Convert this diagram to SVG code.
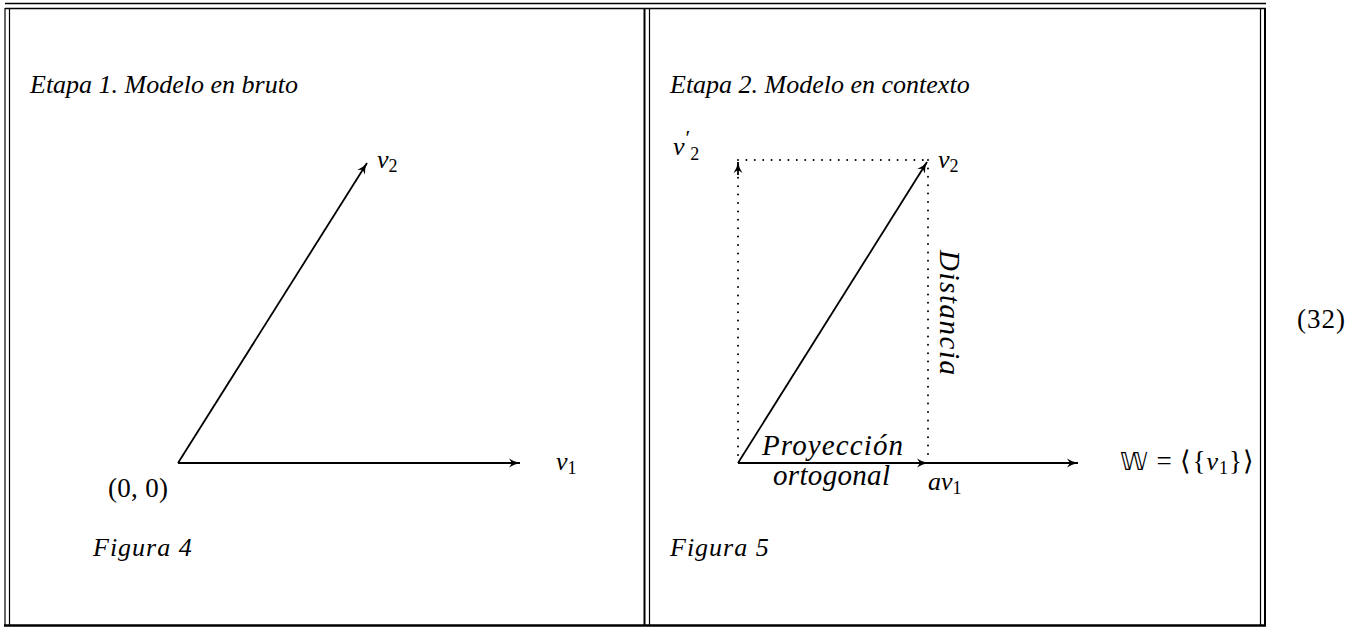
<svg xmlns="http://www.w3.org/2000/svg" width="1369" height="628" viewBox="0 0 1369 628">
<style>
.t{font-family:"Liberation Serif","Times New Roman",serif;font-size:27px;fill:#000}
.i{font-style:italic;font-size:26px}
.m{font-style:italic;font-size:29px}
.s{font-size:18px;font-style:normal}
.f{stroke:#000;fill:none}
.ln{stroke:#000;stroke-width:1.8;fill:none}
.dot{stroke:#000;stroke-width:2;fill:none;stroke-linecap:round;stroke-dasharray:0 8.4}
</style>
<defs>
<marker id="ah" viewBox="0 0 12 10" refX="11" refY="5" markerWidth="12" markerHeight="10" markerUnits="userSpaceOnUse" orient="auto">
<path d="M0,0.5 Q5,4 11,5 Q5,6 0,9.5 L3,5 Z" fill="#000"/>
</marker>
</defs>
<rect width="1369" height="628" fill="#fff"/>
<g id="frame">
<line class="f" x1="5" y1="3.5" x2="1266" y2="3.5" stroke-width="1.6"/>
<line class="f" x1="5" y1="8.5" x2="1266" y2="8.5" stroke-width="1.6"/>
<line class="f" x1="4" y1="625.5" x2="1266" y2="625.5" stroke-width="2.4"/>
<line class="f" x1="5" y1="8" x2="5" y2="625" stroke-width="1.2"/>
<line class="f" x1="9.5" y1="8" x2="9.5" y2="625" stroke-width="1.2"/>
<line class="f" x1="644.5" y1="8" x2="644.5" y2="625" stroke-width="2"/>
<line class="f" x1="649.5" y1="8" x2="649.5" y2="625" stroke-width="1.2"/>
<line class="f" x1="1260.5" y1="8" x2="1260.5" y2="625" stroke-width="1.2"/>
<line class="f" x1="1265" y1="8" x2="1265" y2="625" stroke-width="2"/>
</g>
<g id="connectors">
<line class="ln" x1="178" y1="463" x2="520" y2="463" marker-end="url(#ah)"/>
<line class="ln" x1="178" y1="463" x2="367" y2="163" marker-end="url(#ah)"/>
<line class="dot" x1="738" y1="160" x2="928" y2="160"/>
<line class="dot" x1="928" y1="160" x2="928" y2="460"/>
<line class="dot" x1="738" y1="455" x2="738" y2="172"/>
<line class="ln" x1="738" y1="175" x2="738" y2="162" marker-end="url(#ah)" stroke-width="1"/>
<line class="ln" x1="738" y1="463" x2="927" y2="162" marker-end="url(#ah)"/>
<line class="ln" x1="738" y1="463" x2="928" y2="463" marker-end="url(#ah)"/>
<line class="ln" x1="928" y1="463" x2="1078" y2="463" marker-end="url(#ah)"/>
</g>
<g id="panel1">
<text class="t i" x="30" y="93">Etapa 1. Modelo en bruto</text>
<text class="t" x="377" y="168"><tspan class="i">v</tspan><tspan class="s" dy="4">2</tspan></text>
<text class="t" x="556" y="470"><tspan class="i">v</tspan><tspan class="s" dy="4">1</tspan></text>
<text class="t" x="108" y="497" textLength="60" lengthAdjust="spacing">(0, 0)</text>
<text class="t i" x="93" y="556" style="letter-spacing:1px">Figura 4</text>
</g>
<g id="panel2">
<text class="t i" x="670" y="93">Etapa 2. Modelo en contexto</text>
<text class="t" x="673" y="155"><tspan class="i">v</tspan><tspan dx="1" dy="-10" style="font-size:22px">′</tspan><tspan class="s" dx="0" dy="15">2</tspan></text>
<text class="t" x="938" y="168"><tspan class="i">v</tspan><tspan class="s" dy="4">2</tspan></text>
<text class="t m" transform="translate(940,250) rotate(90)" x="0" y="0" textLength="125" lengthAdjust="spacing">Distancia</text>
<text class="t m" x="762" y="455" textLength="141" lengthAdjust="spacing">Proyección</text>
<text class="t m" x="773" y="485" textLength="117" lengthAdjust="spacing">ortogonal</text>
<text class="t" x="928" y="490"><tspan class="i">av</tspan><tspan class="s" dy="4">1</tspan></text>
<text class="t" x="1120" y="470" style="letter-spacing:1px"><tspan style="font-family:'DejaVu Sans',serif;font-size:25px">𝕎</tspan> = ⟨{<tspan class="i">v</tspan><tspan class="s" dy="4">1</tspan><tspan dy="-4">}⟩</tspan></text>
<text class="t i" x="670" y="556" style="letter-spacing:1px">Figura 5</text>
</g>
<g id="eqnum">
<text class="t" x="1297" y="328" textLength="48" lengthAdjust="spacing">(32)</text>
</g>
</svg>
